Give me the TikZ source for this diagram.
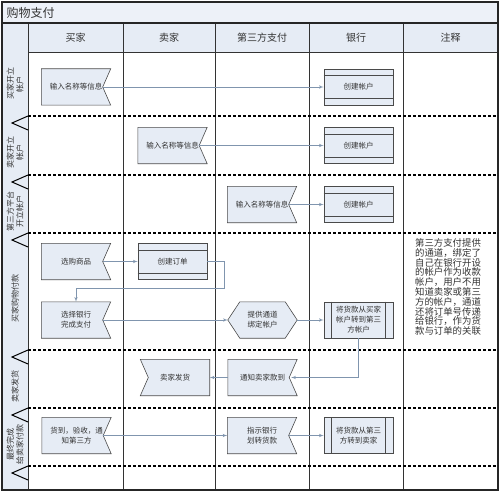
\documentclass[tikz,border=0pt]{standalone}
\usepackage{fontspec}
\setmainfont{Noto Sans CJK SC}
\usetikzlibrary{arrows,backgrounds}
\definecolor{titleblue}{HTML}{EDF1F8}
\definecolor{laneblue}{HTML}{E6ECF5}
\definecolor{boxfill}{HTML}{E6ECF5}
\definecolor{boxline}{HTML}{4A4A4A}
\definecolor{linkgray}{HTML}{8095AE}
\definecolor{inkgray}{HTML}{333333}
\tikzstyle{flag} = [rectangle, minimum width=69pt, minimum height=36pt,
    text width=62pt, align=center, inner sep=0pt, text=inkgray,
    font=\fontsize{7.5}{10}\selectfont]
\tikzstyle{bank} = [flag, draw=boxline, fill=boxfill, line width=0.6pt]
\tikzstyle{outline} = [draw=boxline, fill=boxfill, line width=0.6pt]
\tikzstyle{line} = [draw=linkgray, line width=0.6pt, -latex']

\begin{document}
\begin{tikzpicture}[x=1pt, y=-1pt,
    header/.style={font=\fontsize{10}{10}\selectfont, text=inkgray},
    lanelabel/.style={rotate=90, align=center, text=inkgray,
      font=\fontsize{8}{9.5}\selectfont},
    note/.style={align=left, text=inkgray, inner sep=0pt,
      font=\fontsize{9.4}{9.8}\selectfont},
    frame/.style={draw=black!85, line width=1.1pt},
    colline/.style={draw=black!80, line width=0.8pt},
    lanedash/.style={draw=black, line width=1.2pt, dash pattern=on 3pt off 2pt},
    chevron/.style={draw=black, line width=1pt}]

    \useasboundingbox (0,0) rectangle (500,492);

    % title, header row and lane label column
    \fill[titleblue] (2,2) rectangle (498,23);
    \fill[laneblue] (28,23) rectangle (498,52);
    \fill[laneblue] (2,23) rectangle (28,490);
    \node[anchor=west, font=\fontsize{12}{12}\selectfont, text=inkgray] (title) at (3,12.5) {购物支付};

    % columns
    \foreach \x in {28,123,215,309,403}
      \draw[colline] (\x,23) -- (\x,490);
    \draw[colline] (28,52) -- (498,52);
    \draw[frame] (2,23) -- (498,23);
    \draw[frame] (2,2) rectangle (498,490);

    \foreach \x/\t [count=\i] in {75.5/买家, 169/卖家, 262/第三方支付, 356/银行, 450.5/注释}
      \node[header] (head\i) at (\x,37.5) {\t};

    % lane boundaries
    \foreach \y in {116,175,233,350,408,466} {
      \draw[lanedash] (28,\y) -- (498,\y);
      \draw[chevron] (28,\y) -- (12,\y+7) -- (28,\y+14);
    }

    % lane labels
    \node[lanelabel] (lane1) at (15,84) {买家开立\\帐户};
    \node[lanelabel] (lane2) at (15,152) {卖家开立\\帐户};
    \node[lanelabel] (lane3) at (15,211) {第三方平台\\开立帐户};
    \node[lanelabel] (lane4) at (15,298) {买家购物付款};
    \node[lanelabel] (lane5) at (15,386) {卖家发货};
    \node[lanelabel] (lane6) at (15,444) {最终完成\\给卖家付款};

    % Place nodes
    \node[flag] (buyerInfo) at (76,87) {输入名称等信息};
    \node[bank] (buyerAcc) at (358.5,87) {创建帐户};
    \node[flag] (sellerInfo) at (172.5,145.5) {输入名称等信息};
    \node[bank] (sellerAcc) at (358.5,145.5) {创建帐户};
    \node[flag] (payInfo) at (262,204.5) {输入名称等信息};
    \node[bank] (payAcc) at (358.5,204.5) {创建帐户};
    \node[flag] (choose) at (76,261.5) {选购商品};
    \node[bank] (order) at (172.5,261.5) {创建订单};
    \node[flag] (selectBank) at (76,320) {选择银行\\完成支付};
    \node[flag] (channel) at (262.5,320) {提供通道\\绑定帐户};
    \node[bank] (toThird) at (358.5,320) {将货款从买家\\帐户转到第三\\方帐户};
    \node[flag] (notify) at (262.5,377.5) {通知卖家款到};
    \node[flag] (ship) at (175,377.5) {卖家发货};
    \node[flag] (receive) at (76.5,435.5) {货到，验收，通\\知第三方};
    \node[flag] (instruct) at (262,435.5) {指示银行\\划转货款};
    \node[bank] (toSeller) at (358.5,435.5) {将货款从第三\\方转到卖家};

    \node[note] (remark) at (448,287) {第三方支付提供\\的通道，绑定了\\自己在银行开设\\的帐户作为收款\\帐户，用户不用\\知道卖家或第三\\方的帐户，通道\\还将订单号传递\\给银行，作为货\\款与订单的关联};

    % shape outlines
    \begin{pgfonlayer}{background}
      \foreach \n in {buyerInfo,sellerInfo,payInfo,choose,selectBank,notify,receive,instruct}
        \path[outline] (\n.north west) -- (\n.north east) -- ([xshift=-8pt]\n.east)
          -- (\n.south east) -- (\n.south west) -- cycle;
      \path[outline] (ship.north west) -- (ship.north east) -- (ship.south east)
        -- (ship.south west) -- ([xshift=8pt]ship.west) -- cycle;
      \path[outline] (channel.west) -- ([xshift=12pt]channel.north west)
        -- ([xshift=-12pt]channel.north east) -- (channel.east)
        -- ([xshift=-12pt]channel.south east) -- ([xshift=12pt]channel.south west) -- cycle;
    \end{pgfonlayer}

    % bands of the bank boxes
    \foreach \n in {buyerAcc,sellerAcc,payAcc,order} {
      \draw[boxline, line width=0.6pt] ([yshift=-7pt]\n.north west) -- ([yshift=-7pt]\n.north east);
      \draw[boxline, line width=0.6pt] ([yshift=7pt]\n.south west) -- ([yshift=7pt]\n.south east);
    }
    \foreach \n in {toThird,toSeller} {
      \draw[boxline, line width=0.6pt] ([xshift=8pt]\n.north west) -- ([xshift=8pt]\n.south west);
      \draw[boxline, line width=0.6pt] ([xshift=-8pt]\n.north east) -- ([xshift=-8pt]\n.south east);
    }

    % connectors
    \coordinate (turn) at (224,288);
    \begin{scope}[every path/.style=line]
    \path ([xshift=-8pt]buyerInfo.east) -- (buyerAcc);
    \path ([xshift=-8pt]sellerInfo.east) -- (sellerAcc);
    \path ([xshift=-8pt]payInfo.east) -- (payAcc);
    \path ([xshift=-8pt]choose.east) -- (order);
    \path (order.east) -| (turn) -| (selectBank.north);
    \path ([xshift=-8pt]selectBank.east) -- (channel);
    \path (channel) -- (toThird);
    \path (toThird.south) |- ([xshift=-6pt]notify.east);
    \path (notify) -- (ship);
    \path ([xshift=-8pt]receive.east) -- (instruct);
    \path ([xshift=-8pt]instruct.east) -- (toSeller);
    \end{scope}
\end{tikzpicture}
\end{document}
